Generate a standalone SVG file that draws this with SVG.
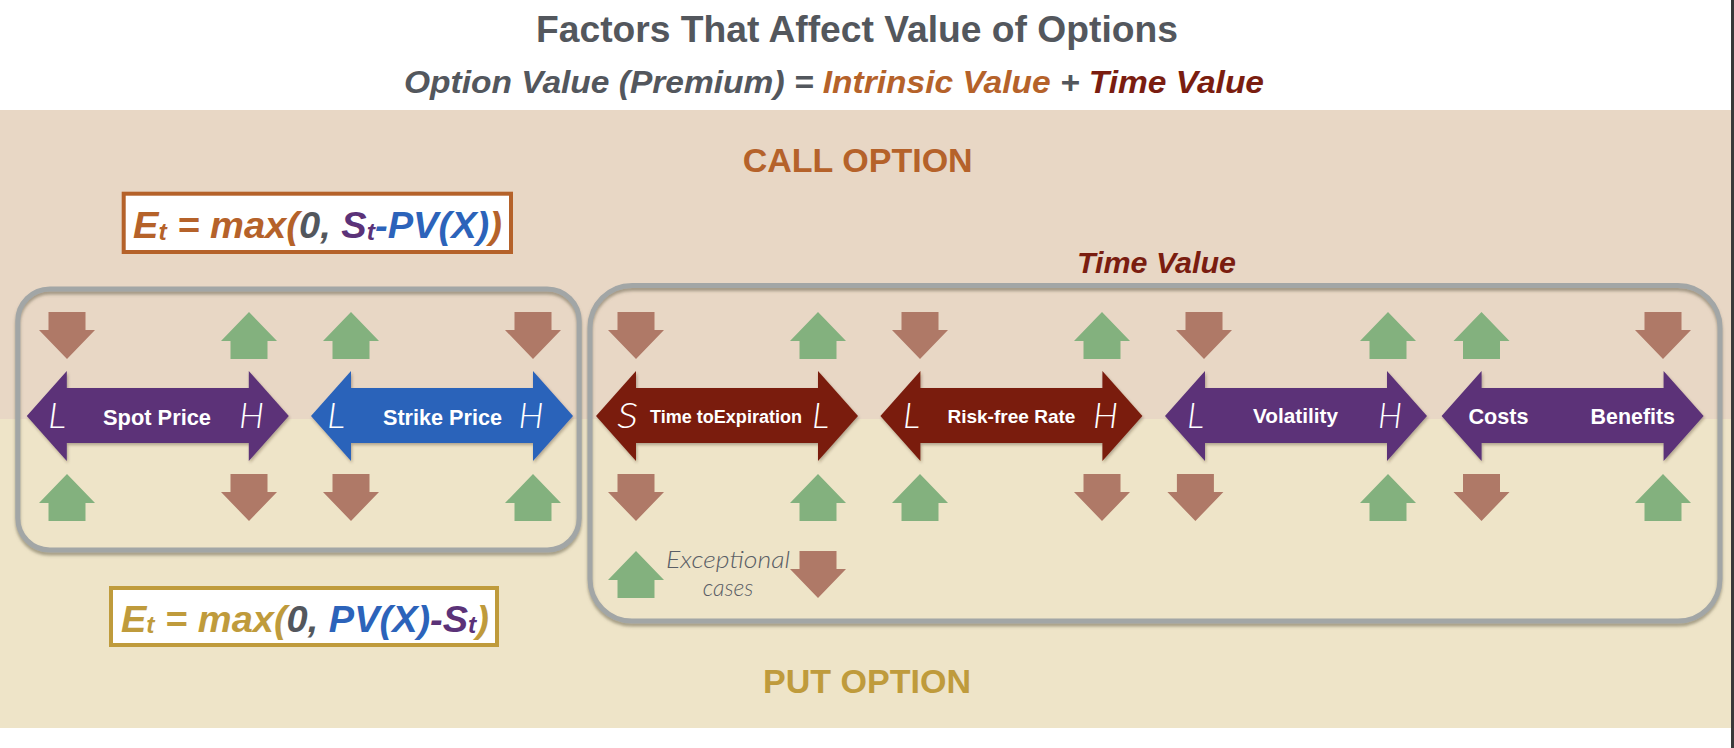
<svg xmlns="http://www.w3.org/2000/svg" xmlns:xlink="http://www.w3.org/1999/xlink" width="1734" height="748" viewBox="0 0 1734 748">
<style>
.t{font-family:"Liberation Sans",Arial,Helvetica,sans-serif;font-weight:bold}
.bi{font-family:"Liberation Sans",Arial,Helvetica,sans-serif;font-weight:bold;font-style:italic}
.lt{font-family:"Lato","Liberation Sans",Arial,sans-serif;font-weight:300;font-style:italic;fill:#ffffff;font-size:36px}
.lbl{font-family:"Liberation Sans",Arial,Helvetica,sans-serif;font-weight:bold;fill:#ffffff}
.gray{fill:#53575d}
.org{fill:#b5622a}
.gold{fill:#bf9b3c}
.red{fill:#7a1d10}
.pur{fill:#5b3278}
.blu{fill:#2c63ba}
.dn{fill:#af7967}
.up{fill:#83b17e}
.grp{fill:none;stroke:#a2a6a6;stroke-width:5}
.fbox{fill:#ffffff;stroke-width:4}
.sub{font-size:24px}
</style>
<defs>
<path id="dn" d="M-18.5,0 H18.5 V18 H28 L0,47 L-28,18 H-18.5 Z"/>
<path id="up" d="M0,0 L28,29 H18.5 V47 H-18.5 V29 H-28 Z"/>
<path id="dbl" d="M0,0 L40,-45 V-28 H222 V-45 L262,0 L222,45 V27 H40 V45 Z"/>
<filter id="sh" x="-10%" y="-10%" width="120%" height="130%">
<feDropShadow dx="1" dy="2" stdDeviation="1.5" flood-color="#3a2a20" flood-opacity="0.35"/>
</filter>
<filter id="bsh" x="-5%" y="-5%" width="110%" height="115%">
<feDropShadow dx="0" dy="3" stdDeviation="1.5" flood-color="#6b6450" flood-opacity="0.55"/>
</filter>
</defs>

<g id="background">
<rect x="0" y="0" width="1734" height="748" fill="#ffffff"/>
<rect x="0" y="110" width="1731" height="309" fill="#e8d7c5"/>
<rect x="0" y="419" width="1731" height="309" fill="#eee4c8"/>
<rect x="1731" y="0" width="3" height="748" fill="#3a3a3a"/>
</g>

<g id="title">
<text class="t gray" x="857" y="41.7" font-size="37" text-anchor="middle" textLength="642" lengthAdjust="spacingAndGlyphs">Factors That Affect Value of Options</text>
</g>

<g id="subtitle">
<text class="bi" x="404" y="92.7" font-size="32" textLength="860" lengthAdjust="spacingAndGlyphs"><tspan class="gray">Option Value (Premium) = </tspan><tspan class="org">Intrinsic Value</tspan><tspan class="gray"> + </tspan><tspan class="red">Time Value</tspan></text>
</g>

<g id="call-option-label">
<text class="t org" x="742.7" y="172.3" font-size="34" textLength="230" lengthAdjust="spacingAndGlyphs">CALL OPTION</text>
</g>

<g id="call-formula">
<rect class="fbox" x="123.7" y="193.7" width="387.3" height="58.3" stroke="#b5622a"/>
<text class="bi" font-size="37" x="133" y="238.3" textLength="369" lengthAdjust="spacingAndGlyphs"><tspan class="org">E</tspan><tspan class="org sub" dy="1.5">t</tspan><tspan class="org" dy="-1.5"> = max(</tspan><tspan class="gray">0, </tspan><tspan class="pur">S</tspan><tspan class="pur sub" dy="1.5">t</tspan><tspan class="blu" dy="-1.5">-PV(X)</tspan><tspan class="org">)</tspan></text>
</g>

<g id="put-formula">
<rect class="fbox" x="111" y="588" width="386" height="57" stroke="#bf9b3c"/>
<text class="bi" font-size="37" x="121" y="631.7" textLength="368" lengthAdjust="spacingAndGlyphs"><tspan class="gold">E</tspan><tspan class="gold sub" dy="1.5">t</tspan><tspan class="gold" dy="-1.5"> = max(</tspan><tspan class="gray">0, </tspan><tspan class="blu">PV(X)</tspan><tspan class="pur">-S</tspan><tspan class="pur sub" dy="1.5">t</tspan><tspan class="gold" dy="-1.5">)</tspan></text>
</g>

<g id="put-option-label">
<text class="t gold" x="763" y="693" font-size="34" textLength="208" lengthAdjust="spacingAndGlyphs">PUT OPTION</text>
</g>

<g id="intrinsic-group">
<rect class="grp" x="17.8" y="289" width="561.4" height="261" rx="32" filter="url(#bsh)"/>
</g>

<g id="time-value-group">
<rect class="grp" x="590" y="285.5" width="1130" height="335.5" rx="42" filter="url(#bsh)"/>
<text class="bi red" x="1077" y="273.3" font-size="30" textLength="159" lengthAdjust="spacingAndGlyphs">Time Value</text>
</g>

<g id="spot-price">
<use href="#dbl" x="26.8" y="416" class="pur" filter="url(#sh)"/>
<text class="lt" x="48" y="428" textLength="18" lengthAdjust="spacingAndGlyphs">L</text>
<text class="lbl" x="103" y="425" font-size="21.7" textLength="108" lengthAdjust="spacingAndGlyphs">Spot Price</text>
<text class="lt" x="239" y="428" textLength="25" lengthAdjust="spacingAndGlyphs">H</text>
<use href="#dn" x="67" y="312" class="dn"/>
<use href="#up" x="249" y="312" class="up"/>
<use href="#up" x="67" y="474" class="up"/>
<use href="#dn" x="249" y="474" class="dn"/>
</g>

<g id="strike-price">
<use href="#dbl" x="311" y="416" class="blu" filter="url(#sh)"/>
<text class="lt" x="327" y="428" textLength="18" lengthAdjust="spacingAndGlyphs">L</text>
<text class="lbl" x="383" y="425" font-size="21.7" textLength="119" lengthAdjust="spacingAndGlyphs">Strike Price</text>
<text class="lt" x="518.5" y="428" textLength="25" lengthAdjust="spacingAndGlyphs">H</text>
<use href="#up" x="351" y="312" class="up"/>
<use href="#dn" x="533" y="312" class="dn"/>
<use href="#dn" x="351" y="474" class="dn"/>
<use href="#up" x="533" y="474" class="up"/>
</g>

<g id="time-to-expiration">
<use href="#dbl" x="596" y="416" class="red" filter="url(#sh)"/>
<text class="lt" x="617" y="428" textLength="21" lengthAdjust="spacingAndGlyphs">S</text>
<text class="lbl" x="650" y="423.3" font-size="18" textLength="152" lengthAdjust="spacingAndGlyphs">Time toExpiration</text>
<text class="lt" x="812" y="428" textLength="17" lengthAdjust="spacingAndGlyphs">L</text>
<use href="#dn" x="636" y="312" class="dn"/>
<use href="#up" x="818" y="312" class="up"/>
<use href="#dn" x="636" y="474" class="dn"/>
<use href="#up" x="818" y="474" class="up"/>
<use href="#up" x="636" y="551" class="up"/>
<use href="#dn" x="818" y="551" class="dn"/>
<text font-family="Lato, 'Liberation Sans', Arial, sans-serif" font-weight="300" font-style="italic" font-size="23" fill="#5a5e66" text-anchor="middle"><tspan x="728" y="568.3" textLength="124" lengthAdjust="spacingAndGlyphs">Exceptional</tspan><tspan x="728" y="596">cases</tspan></text>
</g>

<g id="risk-free-rate">
<use href="#dbl" x="880.4" y="416" class="red" filter="url(#sh)"/>
<text class="lt" x="903" y="428" textLength="17" lengthAdjust="spacingAndGlyphs">L</text>
<text class="lbl" x="947.4" y="423.3" font-size="19" textLength="128" lengthAdjust="spacingAndGlyphs">Risk-free Rate</text>
<text class="lt" x="1093" y="428" textLength="25" lengthAdjust="spacingAndGlyphs">H</text>
<use href="#dn" x="920" y="312" class="dn"/>
<use href="#up" x="1102" y="312" class="up"/>
<use href="#up" x="920" y="474" class="up"/>
<use href="#dn" x="1102" y="474" class="dn"/>
</g>

<g id="volatility">
<use href="#dbl" x="1165" y="416" class="pur" filter="url(#sh)"/>
<text class="lt" x="1187" y="428" textLength="17" lengthAdjust="spacingAndGlyphs">L</text>
<text class="lbl" x="1253" y="423.3" font-size="20.5" textLength="85" lengthAdjust="spacingAndGlyphs">Volatility</text>
<text class="lt" x="1378" y="428" textLength="24" lengthAdjust="spacingAndGlyphs">H</text>
<use href="#dn" x="1204" y="312" class="dn"/>
<use href="#up" x="1388" y="312" class="up"/>
<use href="#dn" x="1195.4" y="474" class="dn"/>
<use href="#up" x="1388" y="474" class="up"/>
</g>

<g id="costs-benefits">
<use href="#dbl" x="1441.6" y="416" class="pur" filter="url(#sh)"/>
<text class="lbl" x="1468.5" y="424" font-size="21.5" textLength="60" lengthAdjust="spacingAndGlyphs">Costs</text>
<text class="lbl" x="1590.6" y="424" font-size="21.5" textLength="84.4" lengthAdjust="spacingAndGlyphs">Benefits</text>
<use href="#up" x="1481.5" y="312" class="up"/>
<use href="#dn" x="1663" y="312" class="dn"/>
<use href="#dn" x="1481.5" y="474" class="dn"/>
<use href="#up" x="1663" y="474" class="up"/>
</g>

<g id="connectors"/>
</svg>
